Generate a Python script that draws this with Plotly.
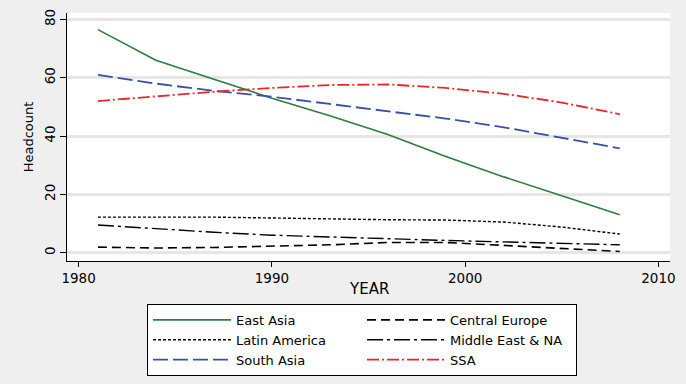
import plotly.graph_objects as go

years = [1981, 1984, 1987, 1990, 1993, 1996, 1999, 2002, 2005, 2008]

east_asia = [76.5, 66.0, 59.5, 53.0, 47.0, 40.5, 33.0, 26.0, 19.5, 13.0]
central_europe = [1.9, 1.6, 1.8, 2.3, 2.7, 3.5, 3.5, 2.5, 1.5, 0.4]
latin_america = [12.2, 12.3, 12.2, 11.9, 11.5, 11.3, 11.2, 10.5, 8.8, 6.4]
middle_east_na = [9.5, 8.2, 7.0, 6.0, 5.3, 4.8, 4.2, 3.7, 3.2, 2.7]
south_asia = [61.0, 58.0, 55.5, 53.5, 51.0, 48.5, 46.0, 43.0, 39.5, 35.8]
ssa = [52.0, 53.7, 55.2, 56.5, 57.5, 57.7, 56.5, 54.5, 51.5, 47.5]

x_ticks = [1980, 1990, 2000, 2010]
y_ticks = [0, 20, 40, 60, 80]

series = [
    ("East Asia", east_asia, "#2e7d3f", "solid", 1.6),
    ("Central Europe", central_europe, "#000000", "9px,5px", 1.6),
    ("Latin America", latin_america, "#000000", "3px,2px", 1.4),
    ("Middle East & NA", middle_east_na, "#000000", "16px,4px,3px,4px", 1.4),
    ("South Asia", south_asia, "#3c4fa3", "15px,5px", 1.8),
    ("SSA", ssa, "#e8262b", "12px,3px,2px,3px", 1.8),
]

FONT = "DejaVu Sans"
fig = go.Figure()
for name, vals, color, dash, w in series:
    fig.add_trace(go.Scatter(x=years, y=vals, name=name, mode="lines",
                             line=dict(color=color, dash=dash, width=w)))

fig.update_layout(
    width=686, height=384,
    margin=dict(l=67, r=16, t=13, b=123, autoexpand=False),
    paper_bgcolor="#efefef", plot_bgcolor="#ffffff",
    font=dict(family=FONT, size=14, color="#000000"),
    showlegend=True,
    legend=dict(
        orientation="h", x=0.1327, y=-0.173, xanchor="left", yanchor="top",
        bgcolor="#ffffff", bordercolor="#000000", borderwidth=1,
        font=dict(family=FONT, size=13), entrywidth=121, itemwidth=78,
        tracegroupgap=0,
    ),
    xaxis=dict(
        range=[1979.4, 2010.6], tickvals=x_ticks, ticks="outside", ticklen=5,
        tickcolor="#000", showline=True, linecolor="#000", linewidth=1,
        showgrid=False, zeroline=False, mirror=False, automargin=False,
        tickfont=dict(size=13.5),
    ),
    yaxis=dict(
        range=[-2.85, 82.2], tickvals=y_ticks, ticks="outside", ticklen=6,
        tickcolor="#000", showline=True, linecolor="#000", linewidth=1,
        showgrid=True, gridcolor="#e6e6e6", gridwidth=3, zeroline=False,
        tickangle=-90, tickfont=dict(size=13.5), automargin=False,
        title=dict(text="Headcount", font=dict(size=13), standoff=5),
    ),
    annotations=[dict(
        text="YEAR", x=0.5, y=-0.1129, xref="paper", yref="paper",
        xanchor="center", yanchor="middle", showarrow=False,
        font=dict(family=FONT, size=15),
    )],
)

fig.write_html(
    "out.html",
    config={"displayModeBar": False},
    post_script="document.body.style.margin='0';document.body.style.background='#efefef';",
)
